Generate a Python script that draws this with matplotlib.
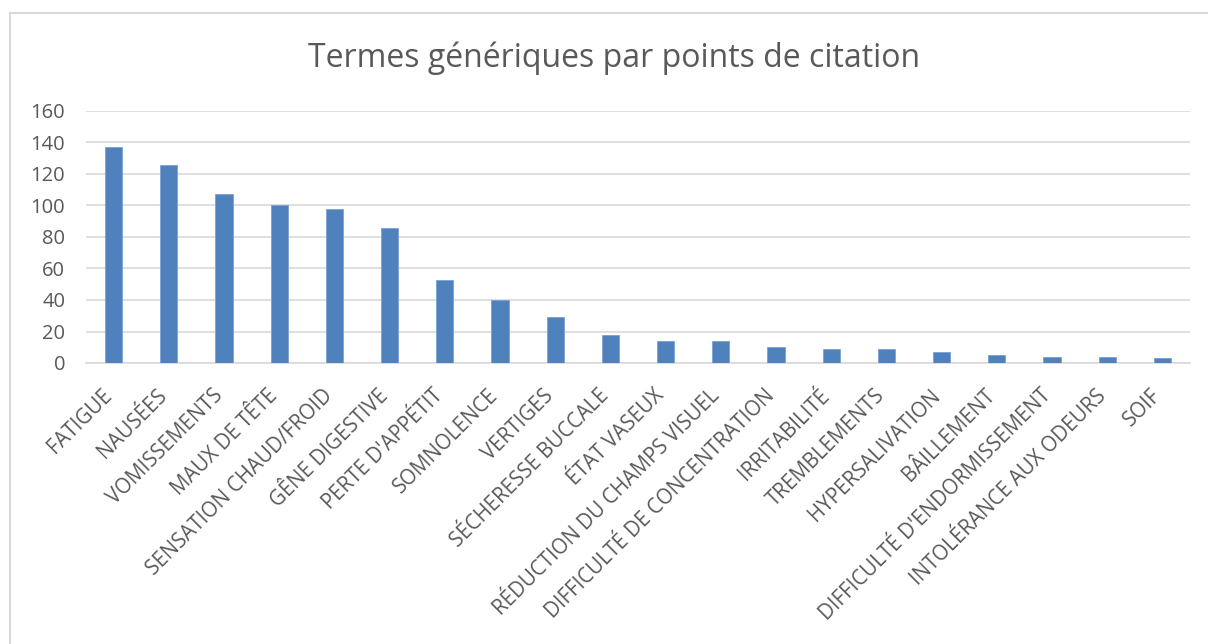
import matplotlib
matplotlib.use("Agg")
import matplotlib.pyplot as plt
from matplotlib.lines import Line2D
from matplotlib.transforms import ScaledTranslation

categories = ["FATIGUE", "NAUSÉES", "VOMISSEMENTS", "MAUX DE TÊTE", "SENSATION CHAUD/FROID",
              "GÊNE DIGESTIVE", "PERTE D'APPÉTIT", "SOMNOLENCE", "VERTIGES", "SÉCHERESSE BUCCALE",
              "ÉTAT VASEUX", "RÉDUCTION DU CHAMPS VISUEL", "DIFFICULTÉ DE CONCENTRATION", "IRRITABILITÉ",
              "TREMBLEMENTS", "HYPERSALIVATION", "BÂILLEMENT", "DIFFICULTÉ D'ENDORMISSEMENT",
              "INTOLÉRANCE AUX ODEURS", "SOIF"]
values = [137, 126, 107, 100, 98, 86, 53, 40, 29, 18, 14, 14, 10, 9, 9, 7, 5, 4, 4, 3]
yticks = [0, 20, 40, 60, 80, 100, 120, 140, 160]
title = "Termes génériques par points de citation"

plt.rcParams['font.family'] = ['Open Sans', 'DejaVu Sans']

fig = plt.figure(figsize=(12.08, 6.44), dpi=100)
ax = fig.add_axes([86/1208, 1-363/644, (1190-86)/1208, (363-111)/644])

x = list(range(len(categories)))
ax.bar(x, values, width=0.31, color="#4f81bd", edgecolor="#7aa0d4", linewidth=0.6, zorder=3)

ax.set_xlim(-0.5, len(categories)-0.5)
ax.set_ylim(0, 160)
ax.set_yticks(yticks)
ax.set_yticklabels([str(v) for v in yticks], fontsize=14.5, color="#595959")
ax.set_xticks(x)
ax.set_xticklabels(categories, rotation=45, ha="right", rotation_mode="anchor",
                   fontsize=14.8, color="#595959")
ax.tick_params(axis="y", length=0, pad=15)
ax.tick_params(axis="x", length=0, pad=16)
offset = ScaledTranslation(-12/100, 0, fig.dpi_scale_trans)
for lbl in ax.get_xticklabels():
    lbl.set_transform(lbl.get_transform() + offset)
ax.grid(axis="y", color="#d9d9d9", linewidth=1.2, zorder=0)
for s in ["top", "right", "left"]:
    ax.spines[s].set_visible(False)
ax.spines["bottom"].set_color("#d9d9d9")
ax.spines["bottom"].set_linewidth(1.2)

fig.text(614/1208, 1-58/644, title, ha="center", va="center", fontsize=23, color="#595959")

fig.add_artist(Line2D([10/1208, 1.0], [1-13/644, 1-13/644], color="#d9d9d9", linewidth=1.5))
fig.add_artist(Line2D([10/1208, 10/1208], [0, 1-13/644], color="#d9d9d9", linewidth=1.5))

fig.savefig("out.png", dpi=100)
